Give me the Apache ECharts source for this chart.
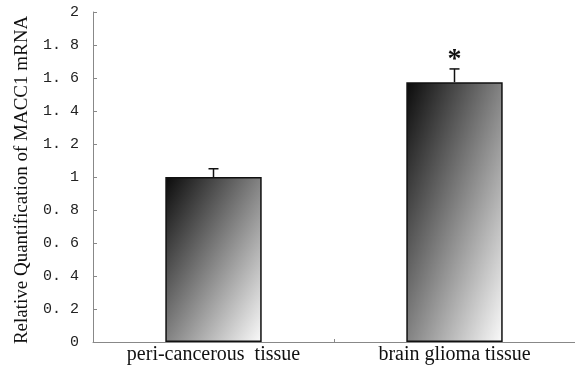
<!DOCTYPE html>
<html><head><meta charset="utf-8">
<script src="https://cdn.jsdelivr.net/npm/echarts@6/dist/echarts.min.js"></script>
<style>html,body{margin:0;padding:0;background:#fff}#c{width:575px;height:365px}</style>
</head><body><div id="c"></div>
<script>
var categories = ['peri-cancerous  tissue', 'brain glioma tissue'];
var values = [1.0, 1.575];
var errors = [0.05, 0.08];
var marks = ['', '*'];
var yTicks = ['0', '0. 2', '0. 4', '0. 6', '0. 8', '1', '1. 2', '1. 4', '1. 6', '1. 8', '2'];

var chart = echarts.init(document.getElementById('c'));
var serif = '"Liberation Serif", "DejaVu Serif", serif';

function barColor(w, h) {
  // diagonal gradient whose iso-lines join top-right and bottom-left corners
  var s = h * h + w * w;
  return new echarts.graphic.LinearGradient(0, 0, 2 * h * h / s, 2 * w * w / s, [
    {offset: 0, color: '#0a0a0a'}, {offset: 1, color: '#fbfbfb'}
  ]);
}

var option = {
  animation: false,
  grid: {left: 93, right: -4, top: 12, bottom: 22},
  xAxis: {
    type: 'category', data: categories,
    axisLine: {lineStyle: {color: '#888', width: 1}},
    axisTick: {show: true, inside: true, length: 3, lineStyle: {color: '#888'}},
    axisLabel: {color: '#111', fontFamily: serif, fontSize: 20, margin: 3}
  },
  yAxis: {
    type: 'value', min: 0, max: 2, interval: 0.2,
    name: 'Relative Quantification of MACC1 mRNA',
    nameLocation: 'middle', nameGap: 61, nameRotate: 90,
    nameTextStyle: {color: '#111', fontFamily: serif, fontSize: 19, padding: [0, 6, 0, 0]},
    axisLine: {show: true, lineStyle: {color: '#888'}},
    axisTick: {show: true, inside: true, length: 4, lineStyle: {color: '#888'}},
    splitLine: {show: false},
    axisLabel: {color: '#222', fontFamily: '"Liberation Mono", monospace', fontSize: 15, margin: 14,
      formatter: function (v) { return yTicks[Math.round(v / 0.2)]; }}
  },
  series: [{
    type: 'bar', data: values, barWidth: '40%',
    itemStyle: {borderColor: '#111', borderWidth: 1.5, color: '#888'}
  }, {
    type: 'custom',
    data: values.map(function (v, i) { return [i, v, errors[i]]; }),
    renderItem: function (params, api) {
      var i = api.value(0), v = api.value(1), e = api.value(2);
      var p0 = api.coord([i, v]);
      var p1 = api.coord([i, v + e]);
      var children = [
        {type: 'line', shape: {x1: p0[0], y1: p0[1], x2: p1[0], y2: p1[1]}, style: {stroke: '#111', lineWidth: 1.5}},
        {type: 'line', shape: {x1: p1[0] - 5, y1: p1[1], x2: p1[0] + 5, y2: p1[1]}, style: {stroke: '#111', lineWidth: 1.5}}
      ];
      var m = marks[params.dataIndex];
      if (m) {
        children.push({type: 'text', x: p1[0], y: p1[1] + 5, style: {text: m, fill: '#111', font: 'bold 28px ' + serif, align: 'center', verticalAlign: 'bottom'}});
      }
      return {type: 'group', children: children};
    },
    z: 5
  }]
};
chart.setOption(option);

// colour each bar using its rendered pixel size
var band = chart.convertToPixel({xAxisIndex: 0}, 1) - chart.convertToPixel({xAxisIndex: 0}, 0);
var y0 = chart.convertToPixel({yAxisIndex: 0}, 0);
var barW = band * 0.4;
chart.setOption({series: [{
  data: values.map(function (v) {
    var h = y0 - chart.convertToPixel({yAxisIndex: 0}, v);
    return {value: v, itemStyle: {color: barColor(barW, h)}};
  })
}]});
</script></body></html>
